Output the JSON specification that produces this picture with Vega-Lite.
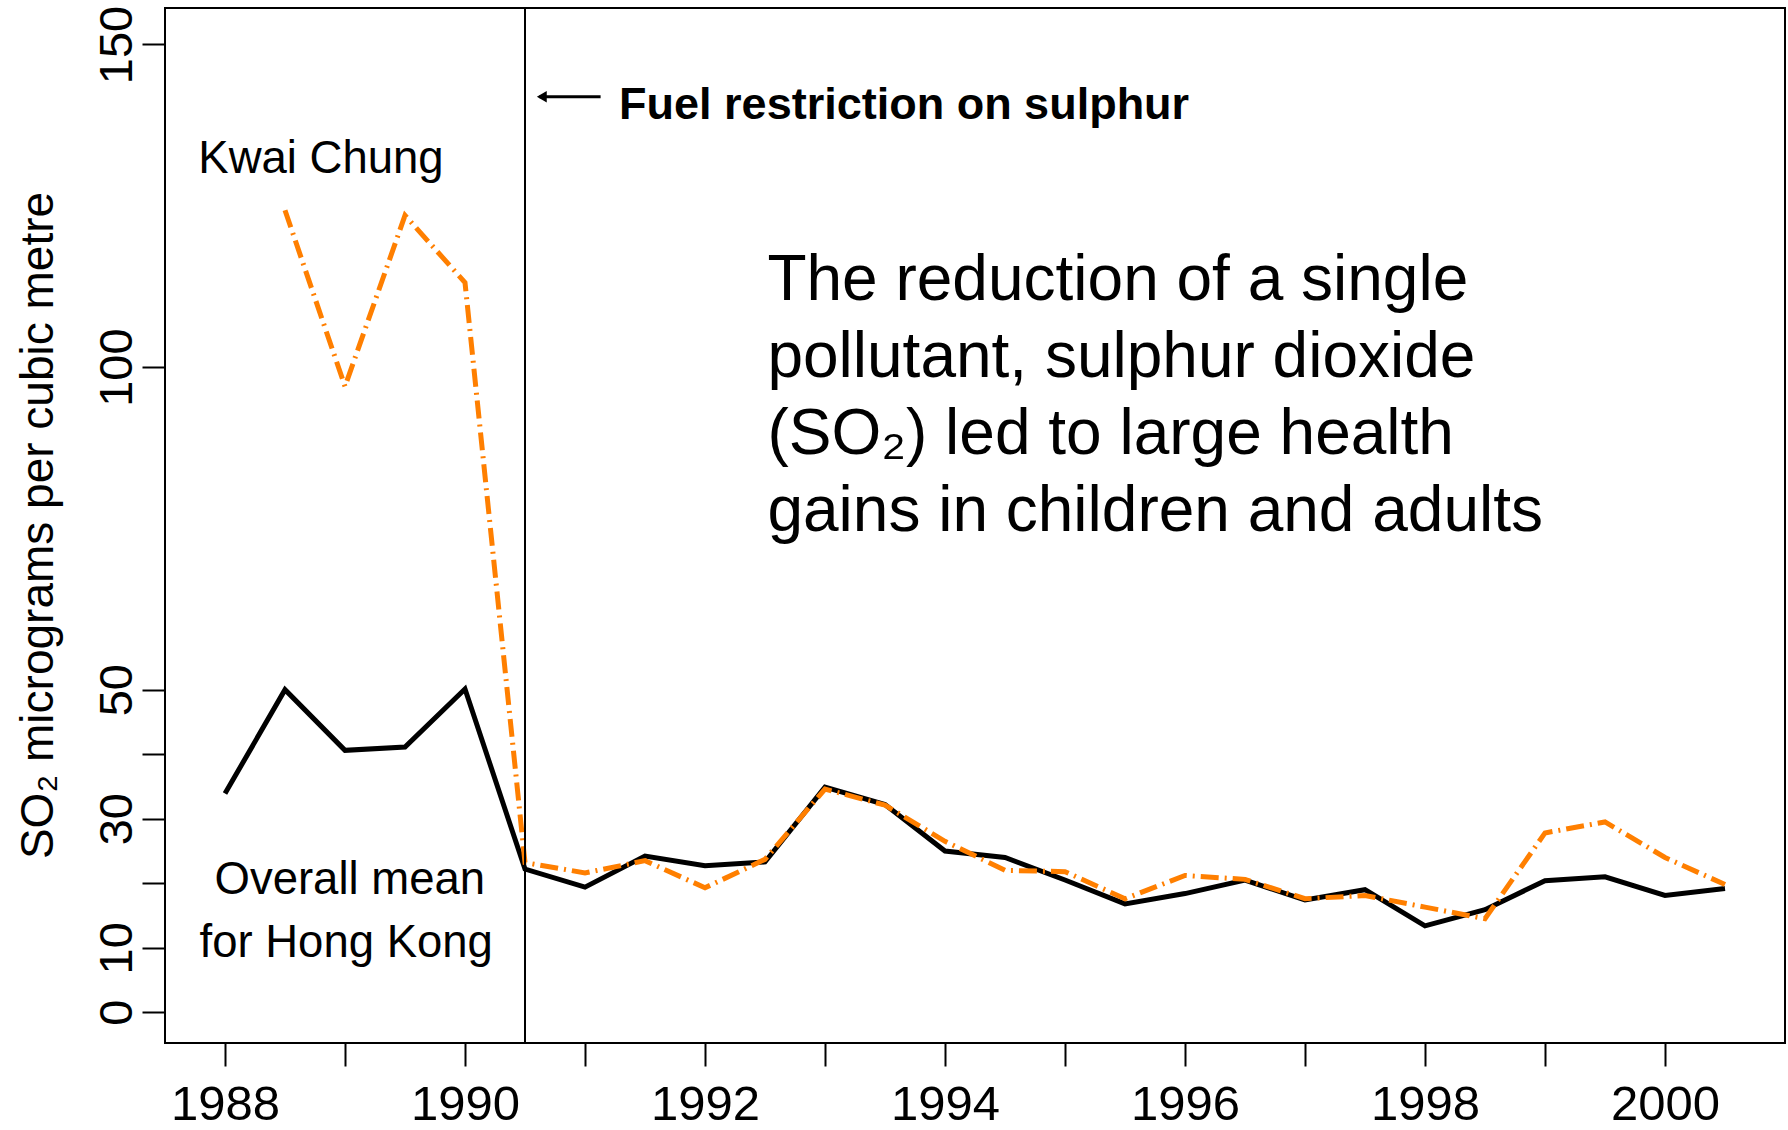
{
  "$schema": "https://vega.github.io/schema/vega-lite/v6.json",
  "width": 1620,
  "height": 1035,
  "autosize": {"type": "none"},
  "padding": {"left": 165, "top": 8, "right": 3, "bottom": 87},
  "background": "white",
  "config": {
    "view": {"stroke": "black", "strokeWidth": 2},
    "font": "Liberation Sans",
    "text": {"font": "Liberation Sans", "color": "black"}
  },
  "datasets": {
    "series": [
      {"year": 1988, "series": "Overall mean", "so2": 33.9},
      {"year": 1988.5, "series": "Overall mean", "so2": 50.0},
      {"year": 1989, "series": "Overall mean", "so2": 40.6},
      {"year": 1989.5, "series": "Overall mean", "so2": 41.1},
      {"year": 1990, "series": "Overall mean", "so2": 50.1},
      {"year": 1990.5, "series": "Overall mean", "so2": 22.2},
      {"year": 1991, "series": "Overall mean", "so2": 19.4},
      {"year": 1991.5, "series": "Overall mean", "so2": 24.2},
      {"year": 1992, "series": "Overall mean", "so2": 22.7},
      {"year": 1992.5, "series": "Overall mean", "so2": 23.3},
      {"year": 1993, "series": "Overall mean", "so2": 34.9},
      {"year": 1993.5, "series": "Overall mean", "so2": 32.2},
      {"year": 1994, "series": "Overall mean", "so2": 25.0},
      {"year": 1994.5, "series": "Overall mean", "so2": 24.0},
      {"year": 1995, "series": "Overall mean", "so2": 20.5},
      {"year": 1995.5, "series": "Overall mean", "so2": 16.8},
      {"year": 1996, "series": "Overall mean", "so2": 18.4},
      {"year": 1996.5, "series": "Overall mean", "so2": 20.5},
      {"year": 1997, "series": "Overall mean", "so2": 17.4},
      {"year": 1997.5, "series": "Overall mean", "so2": 19.0},
      {"year": 1998, "series": "Overall mean", "so2": 13.4},
      {"year": 1998.5, "series": "Overall mean", "so2": 15.9},
      {"year": 1999, "series": "Overall mean", "so2": 20.4},
      {"year": 1999.5, "series": "Overall mean", "so2": 21.0},
      {"year": 2000, "series": "Overall mean", "so2": 18.1},
      {"year": 2000.5, "series": "Overall mean", "so2": 19.2},
      {"year": 1988.5, "series": "Kwai Chung", "so2": 124.3},
      {"year": 1989, "series": "Kwai Chung", "so2": 97.0},
      {"year": 1989.5, "series": "Kwai Chung", "so2": 123.5},
      {"year": 1990, "series": "Kwai Chung", "so2": 113.1},
      {"year": 1990.5, "series": "Kwai Chung", "so2": 23.2},
      {"year": 1991, "series": "Kwai Chung", "so2": 21.6},
      {"year": 1991.5, "series": "Kwai Chung", "so2": 23.5},
      {"year": 1992, "series": "Kwai Chung", "so2": 19.3},
      {"year": 1992.5, "series": "Kwai Chung", "so2": 23.7},
      {"year": 1993, "series": "Kwai Chung", "so2": 34.6},
      {"year": 1993.5, "series": "Kwai Chung", "so2": 32.1},
      {"year": 1994, "series": "Kwai Chung", "so2": 26.5},
      {"year": 1994.5, "series": "Kwai Chung", "so2": 22.0},
      {"year": 1995, "series": "Kwai Chung", "so2": 21.8},
      {"year": 1995.5, "series": "Kwai Chung", "so2": 17.6},
      {"year": 1996, "series": "Kwai Chung", "so2": 21.2},
      {"year": 1996.5, "series": "Kwai Chung", "so2": 20.6},
      {"year": 1997, "series": "Kwai Chung", "so2": 17.6},
      {"year": 1997.5, "series": "Kwai Chung", "so2": 18.1},
      {"year": 1998, "series": "Kwai Chung", "so2": 16.3},
      {"year": 1998.5, "series": "Kwai Chung", "so2": 14.5},
      {"year": 1999, "series": "Kwai Chung", "so2": 27.8},
      {"year": 1999.5, "series": "Kwai Chung", "so2": 29.5},
      {"year": 2000, "series": "Kwai Chung", "so2": 24.0},
      {"year": 2000.5, "series": "Kwai Chung", "so2": 19.8}
    ]
  },
  "layer": [
    {
      "data": {"name": "series"},
      "transform": [{"filter": "datum.series == 'Overall mean'"}],
      "mark": {"type": "line", "color": "black", "strokeWidth": 5, "strokeJoin": "miter", "clip": true},
      "encoding": {
        "x": {
          "field": "year", "type": "quantitative",
          "scale": {"domain": [1987.5, 2001], "nice": false, "zero": false},
          "axis": {
            "title": null,
            "values": [1988, 1989, 1990, 1991, 1992, 1993, 1994, 1995, 1996, 1997, 1998, 1999, 2000],
            "format": "d",
            "labelExpr": "datum.value % 2 == 0 ? datum.label : ''",
            "domain": false, "grid": false,
            "ticks": true, "tickSize": 23, "tickWidth": 2, "tickColor": "black",
            "labelFont": "Liberation Sans", "labelFontSize": 49, "labelColor": "black",
            "labelBaseline": "alphabetic", "labelPadding": 53,
            "labelOverlap": false, "labelFlush": false, "labelBound": false
          }
        },
        "y": {
          "field": "so2", "type": "quantitative",
          "scale": {"domain": [-4.76, 155.65], "nice": false, "zero": false},
          "axis": {
            "title": "SO₂  micrograms per cubic metre",
            "titleFont": "Liberation Sans", "titleFontSize": 46, "titleFontWeight": "normal", "titleColor": "black",
            "titleAngle": 270, "titleAlign": "center", "titleBaseline": "alphabetic",
            "titleX": -113, "titleY": 517,
            "values": [0, 10, 20, 30, 40, 50, 100, 150],
            "labelExpr": "datum.value == 20 || datum.value == 40 ? '' : datum.label",
            "domain": false, "grid": false,
            "ticks": true, "tickSize": 23, "tickWidth": 2, "tickColor": "black",
            "labelFont": "Liberation Sans", "labelFontSize": 47, "labelColor": "black",
            "labelAngle": 270, "labelAlign": "center", "labelBaseline": "alphabetic", "labelPadding": 11,
            "labelOverlap": false, "labelFlush": false, "labelBound": false
          }
        }
      }
    },
    {
      "data": {"name": "series"},
      "transform": [{"filter": "datum.series == 'Kwai Chung'"}],
      "mark": {"type": "line", "color": "#ff7f00", "strokeWidth": 5, "strokeDash": [18, 6, 2, 6], "clip": true},
      "encoding": {
        "x": {"field": "year", "type": "quantitative"},
        "y": {"field": "so2", "type": "quantitative"}
      }
    },
    {
      "data": {"values": [{"year": 1990.5}]},
      "mark": {"type": "rule", "color": "black", "strokeWidth": 2},
      "encoding": {
        "x": {"field": "year", "type": "quantitative"}
      }
    },
    {
      "data": {"values": [{"year": 1990.62, "year2": 1991.13, "so2": 141.9}]},
      "mark": {"type": "rule", "color": "black", "strokeWidth": 3},
      "encoding": {
        "x": {"field": "year", "type": "quantitative"},
        "x2": {"field": "year2"},
        "y": {"field": "so2", "type": "quantitative"}
      }
    },
    {
      "data": {"values": [{"year": 1990.64, "so2": 141.9}]},
      "mark": {"type": "point", "shape": "triangle-left", "filled": true, "color": "black", "size": 130, "opacity": 1},
      "encoding": {
        "x": {"field": "year", "type": "quantitative"},
        "y": {"field": "so2", "type": "quantitative"}
      }
    },
    {
      "data": {"values": [{"year": 1991.284, "so2": 138.4, "label": "Fuel restriction on sulphur"}]},
      "mark": {"type": "text", "align": "left", "baseline": "alphabetic", "fontSize": 45, "fontWeight": "bold"},
      "encoding": {
        "x": {"field": "year", "type": "quantitative"},
        "y": {"field": "so2", "type": "quantitative"},
        "text": {"field": "label"}
      }
    },
    {
      "data": {"values": [
        {"year": 1988.8, "so2": 130.1, "label": "Kwai Chung"},
        {"year": 1989.04, "so2": 18.3, "label": "Overall mean"},
        {"year": 1989.01, "so2": 8.5, "label": "for Hong Kong"}
      ]},
      "mark": {"type": "text", "align": "center", "baseline": "alphabetic", "fontSize": 45.5},
      "encoding": {
        "x": {"field": "year", "type": "quantitative"},
        "y": {"field": "so2", "type": "quantitative"},
        "text": {"field": "label"}
      }
    },
    {
      "data": {"values": [{"year": 1992.52, "so2": 110.4, "label": "The reduction of a single\npollutant, sulphur dioxide\n(SO₂) led to large health\ngains in children and adults"}]},
      "mark": {"type": "text", "align": "left", "baseline": "alphabetic", "fontSize": 64, "lineBreak": "\n", "lineHeight": 77},
      "encoding": {
        "x": {"field": "year", "type": "quantitative"},
        "y": {"field": "so2", "type": "quantitative"},
        "text": {"field": "label"}
      }
    }
  ]
}
